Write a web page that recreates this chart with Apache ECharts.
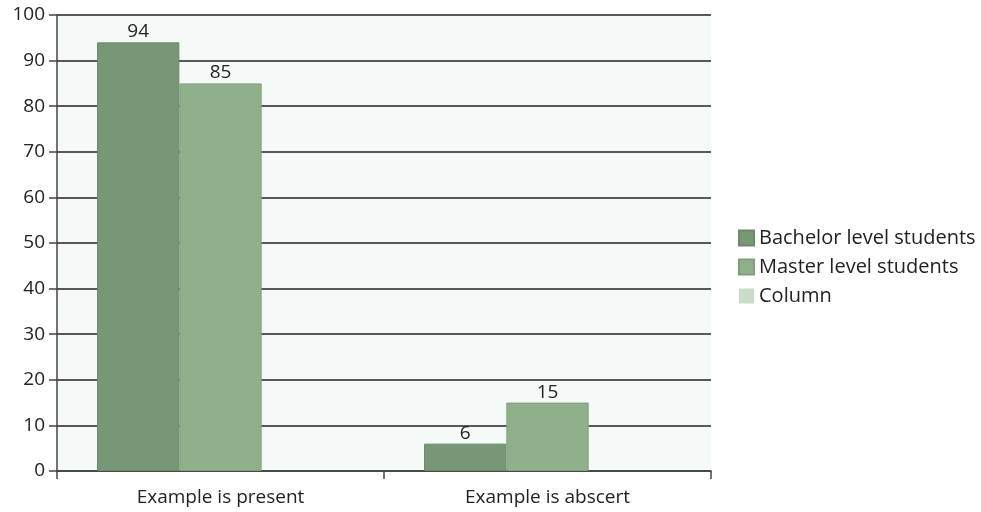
<!DOCTYPE html>
<html><head><meta charset="utf-8">
<script src="https://cdn.jsdelivr.net/npm/echarts@6/dist/echarts.min.js"></script>
<style>html,body{margin:0;padding:0;background:#fff}#c{width:981px;height:512px}</style>
</head><body><div id="c"></div>
<script>
const categories = ["Example is present", "Example is abscert"];
const bachelor = [94, 6];
const master = [85, 15];
const column = [0, 0];
const yTicks = [0, 10, 20, 30, 40, 50, 60, 70, 80, 90, 100];

const chart = echarts.init(document.getElementById('c'));
const font = "'Open Sans', 'Noto Sans', sans-serif";
chart.setOption({
  animation: false,
  textStyle: {fontFamily: font},
  grid: {left: 57, right: 270, top: 15, bottom: 41, show: true, backgroundColor: '#f5f9f8', borderWidth: 0},
  legend: {
    orient: 'vertical', left: 733, top: 223, itemWidth: 15, itemHeight: 15, itemGap: 9, icon: 'rect',
    textStyle: {fontSize: 20, color: '#222', fontFamily: font},
    data: ['Bachelor level students', 'Master level students', 'Column']
  },
  xAxis: {
    type: 'category', data: categories,
    axisLine: {lineStyle: {color: '#444', width: 1.5}},
    axisTick: {show: true, length: 8, lineStyle: {color: '#444', width: 1.5}},
    axisLabel: {fontSize: 19, color: '#222', margin: 17}
  },
  yAxis: {
    type: 'value', min: 0, max: 100, interval: 10,
    axisLine: {show: true, lineStyle: {color: '#444', width: 1.5}},
    axisTick: {show: true, length: 8, lineStyle: {color: '#444', width: 1.5}},
    axisLabel: {fontSize: 19, color: '#222', margin: 12,
      formatter: v => yTicks.includes(v) ? String(v) : ''},
    splitLine: {lineStyle: {color: '#222', width: 1.5}}
  },
  series: [
    {name: 'Bachelor level students', type: 'bar', data: bachelor, barGap: '0%', barCategoryGap: '24.5%',
      itemStyle: {color: '#779777', borderColor: '#6a8a6a', borderWidth: 1},
      label: {show: true, position: 'top', fontSize: 19, color: '#222', distance: 1}},
    {name: 'Master level students', type: 'bar', data: master, barGap: '0%', barCategoryGap: '24.5%',
      itemStyle: {color: '#8fb08a', borderColor: '#80a07c', borderWidth: 1},
      label: {show: true, position: 'top', fontSize: 19, color: '#222', distance: 1}},
    {name: 'Column', type: 'bar', data: column, barGap: '0%', barCategoryGap: '24.5%',
      itemStyle: {color: '#c9dcc9'}}
  ]
});
</script></body></html>
